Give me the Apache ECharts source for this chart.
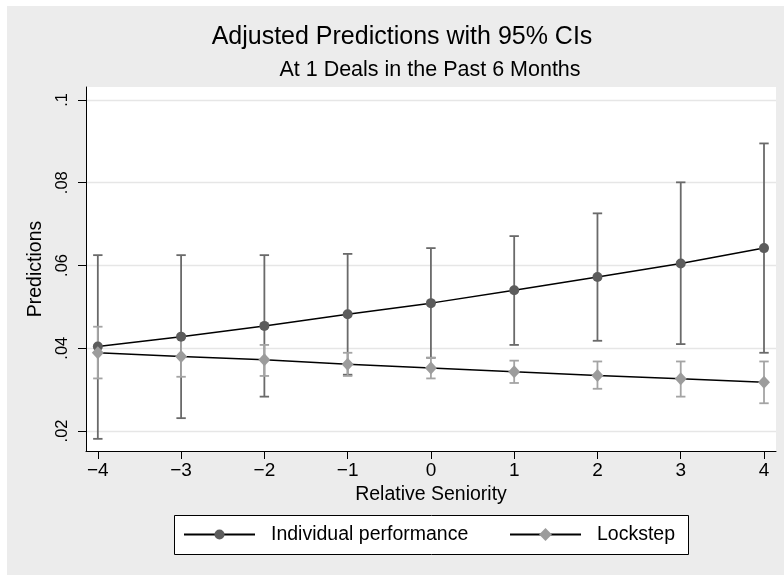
<!DOCTYPE html>
<html>
<head>
<meta charset="utf-8">
<script src="https://cdn.jsdelivr.net/npm/echarts@6/dist/echarts.min.js"></script>
<style>html,body{margin:0;padding:0;background:#ececec}#c{width:784px;height:575px}</style>
</head>
<body>
<div id="c"></div>
<script>
const seniority = [-4, -3, -2, -1, 0, 1, 2, 3, 4];
const indivPred  = [0.0404, 0.0428, 0.0454, 0.0482, 0.0509, 0.0540, 0.0572, 0.0605, 0.0642];
const indivLower = [0.0181, 0.0231, 0.0283, 0.0336, 0.0377, 0.0408, 0.0418, 0.0410, 0.0389];
const indivUpper = [0.0625, 0.0625, 0.0625, 0.0628, 0.0642, 0.0671, 0.0726, 0.0801, 0.0895];
const lockPred   = [0.0389, 0.0380, 0.0372, 0.0361, 0.0352, 0.0343, 0.0334, 0.0326, 0.0318];
const lockLower  = [0.0327, 0.0331, 0.0333, 0.0333, 0.0327, 0.0316, 0.0302, 0.0283, 0.0267];
const lockUpper  = [0.0452, 0.0429, 0.0408, 0.0389, 0.0377, 0.0370, 0.0368, 0.0368, 0.0368];
const xTicks = [-4, -3, -2, -1, 0, 1, 2, 3, 4];
const yTicks = [0.02, 0.04, 0.06, 0.08, 0.1];
const yTickLabels = ['.02', '.04', '.06', '.08', '.1'];
const seriesNames = ['Individual performance', 'Lockstep'];

const FONT = '"Liberation Sans", Arial, Helvetica, sans-serif';
const chart = echarts.init(document.getElementById('c'), null, {renderer: 'canvas'});

function ciData(lo, hi) {
  return seniority.map((x, i) => [x, lo[i], hi[i]]);
}
function ciRender(color) {
  return function (params, api) {
    const x = api.value(0);
    const pLo = api.coord([x, api.value(1)]);
    const pHi = api.coord([x, api.value(2)]);
    const hw = 4.7;
    const st = {stroke: color, lineWidth: 1.8};
    return {
      type: 'group',
      children: [
        {type: 'line', shape: {x1: pHi[0], y1: pHi[1], x2: pLo[0], y2: pLo[1]}, style: st},
        {type: 'line', shape: {x1: pHi[0] - hw, y1: pHi[1], x2: pHi[0] + hw, y2: pHi[1]}, style: st},
        {type: 'line', shape: {x1: pLo[0] - hw, y1: pLo[1], x2: pLo[0] + hw, y2: pLo[1]}, style: st}
      ]
    };
  };
}

const legendText = {fontFamily: FONT, fontSize: 19.5, color: '#000', padding: [0, 0, 0, 11]};

const option = {
  backgroundColor: '#ececec',
  animation: false,
  graphic: [
    {type: 'rect', left: 0, top: 0, shape: {width: 784, height: 6}, style: {fill: '#ffffff'}, silent: true},
    {type: 'rect', left: 0, top: 0, shape: {width: 7, height: 575}, style: {fill: '#ffffff'}, silent: true},
    {type: 'rect', shape: {x: 174.5, y: 515.5, width: 514, height: 39},
     style: {fill: '#ffffff', stroke: '#000000', lineWidth: 1}, silent: true}
  ],
  title: [
    {text: 'Adjusted Predictions with 95% CIs', left: 402, top: 25, textAlign: 'center', padding: 0,
     textStyle: {fontFamily: FONT, fontSize: 25, fontWeight: 'normal', color: '#000'}},
    {text: 'At 1 Deals in the Past 6 Months', left: 430, top: 59, textAlign: 'center', padding: 0,
     textStyle: {fontFamily: FONT, fontSize: 21.5, fontWeight: 'normal', color: '#000'}}
  ],
  grid: {left: 86, right: 8, top: 87, bottom: 124, show: true, backgroundColor: '#ffffff', borderWidth: 0},
  legend: [
    {left: 183, top: 524.5, padding: 0, itemWidth: 71, itemHeight: 12.5,
     data: [seriesNames[0]], textStyle: legendText},
    {left: 509, top: 524.5, padding: 0, itemWidth: 71, itemHeight: 16,
     data: [seriesNames[1]], textStyle: legendText}
  ],
  xAxis: {
    type: 'value', min: -4.142, max: 4.144,
    name: 'Relative Seniority', nameLocation: 'middle', nameGap: 32,
    nameTextStyle: {fontFamily: FONT, fontSize: 19.5, color: '#000'},
    axisLine: {show: true, onZero: false, lineStyle: {color: '#000', width: 1}},
    axisTick: {show: true, length: 8, customValues: xTicks, lineStyle: {color: '#000', width: 1}},
    axisLabel: {customValues: xTicks, margin: 10, fontFamily: FONT, fontSize: 19, color: '#000',
      formatter: v => String(v).replace('-', '\u2212')},
    splitLine: {show: false}
  },
  yAxis: {
    type: 'value', min: 0.01516, max: 0.10314,
    name: 'Predictions', nameLocation: 'middle', nameGap: 37,
    nameTextStyle: {fontFamily: FONT, fontSize: 19.5, color: '#000'},
    axisLine: {show: true, onZero: false, lineStyle: {color: '#000', width: 1}},
    axisTick: {show: true, length: 8, customValues: yTicks, lineStyle: {color: '#000', width: 1}},
    axisLabel: {customValues: yTicks, rotate: 90, margin: 15, fontFamily: FONT, fontSize: 16.5, color: '#000',
      formatter: v => yTickLabels[yTicks.findIndex(t => Math.abs(t - v) < 1e-9)] ?? ''},
    splitLine: {show: true, lineStyle: {color: '#e6e6e6', width: 1.4}}
  },
  series: [
    {type: 'custom', name: 'ci1', data: ciData(indivLower, indivUpper), renderItem: ciRender('#6a6a6a'),
     encode: {x: 0, y: [1, 2]}, z: 2, silent: true},
    {type: 'custom', name: 'ci2', data: ciData(lockLower, lockUpper), renderItem: ciRender('#a4a4a4'),
     encode: {x: 0, y: [1, 2]}, z: 3, silent: true},
    {type: 'line', name: seriesNames[0], data: seniority.map((x, i) => [x, indivPred[i]]),
     symbol: 'circle', symbolSize: 10, showAllSymbol: true,
     itemStyle: {color: '#5c5c5c'}, lineStyle: {color: '#000', width: 1.5}, z: 4},
    {type: 'line', name: seriesNames[1], data: seniority.map((x, i) => [x, lockPred[i]]),
     symbol: 'diamond', symbolSize: [12, 13], showAllSymbol: true,
     itemStyle: {color: '#9c9c9c'}, lineStyle: {color: '#000', width: 1.5}, z: 5}
  ]
};
chart.setOption(option);
</script>
</body>
</html>
